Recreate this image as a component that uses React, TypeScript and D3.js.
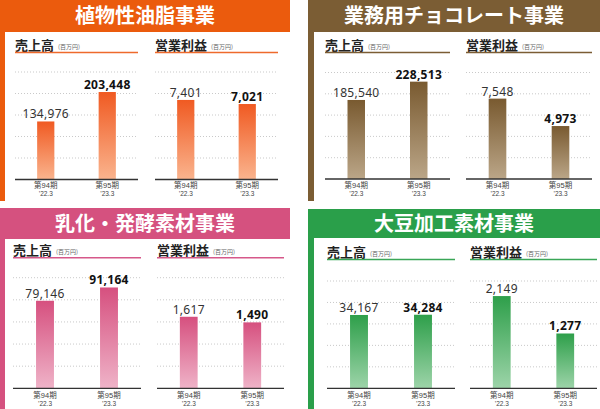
import React from 'react';
import * as d3 from 'd3';

// ---- data ----
const segments = ['植物性油脂事業', '業務用チョコレート事業', '乳化・発酵素材事業', '大豆加工素材事業'];
const periods = ['第94期', '第95期'];
const periodDates = ['’22.3', '’23.3'];
const salesValues = [
  [134976, 203448],
  [185540, 228513],
  [79146, 91164],
  [34167, 34284],
];
const profitValues = [
  [7401, 7021],
  [7548, 4973],
  [1617, 1490],
  [2149, 1277],
];
const salesMax = [250000, 250000, 100000, 50000];
const profitMax = [10000, 10000, 2500, 2500];
const chartTitles = ['売上高', '営業利益'];
const unitLabel = '(百万円)';

// ---- layout / style ----
const palette = [
  { header: '#EB5B0D', line: '#EE6A2C', top: '#F05A22', bottom: '#FAB48E' },
  { header: '#7B5D34', line: '#7B5D34', top: '#795A30', bottom: '#BBA688' },
  { header: '#D5517F', line: '#D6588A', top: '#D6507F', bottom: '#EFB3C8' },
  { header: '#2A9F4A', line: '#3AA657', top: '#2E9F4A', bottom: '#9DD4A9' },
];
const layout = [
  { hx: 0, hy: 0, hw: 290, hh: 32, bx: 0, bw: 5, bh: 201, sales: [15, 138], profit: [155, 278], uy: 52.5, top: 72, bottom: 179.5, lo: 0 },
  { hx: 308, hy: 0, hw: 292, hh: 32, bx: 308, bw: 6, bh: 201, sales: [325, 450], profit: [466, 592], uy: 52.5, top: 72.5, bottom: 179, lo: 0 },
  { hx: 0, hy: 208, hw: 290, hh: 31, bx: 0, bw: 5, bh: 201, sales: [13, 141], profit: [157, 284], uy: 257.7, top: 277.7, bottom: 388.3, lo: 1 },
  { hx: 308, hy: 209, hw: 292, hh: 29, bx: 308, bw: 6, bh: 200, sales: [327, 455], profit: [470, 597], uy: 259.5, top: 281, bottom: 388.3, lo: 0.6 },
];

const JP = '"Noto Sans CJK JP", "Noto Sans", sans-serif';
const SMALL = '"Liberation Sans", "Noto Sans CJK JP", sans-serif';
const NUM = '"Noto Sans", "DejaVu Sans", sans-serif';

function SubChart(props: {
  range: number[]; top: number; bottom: number; uy: number; title: string;
  values: number[]; max: number; line: string; gradId: string; lo: number;
}) {
  const { range, top, bottom, uy, title, values, max, line, gradId, lo } = props;
  const y = d3.scaleLinear().domain([0, max]).range([bottom, top]);
  const x = d3.scaleBand<string>().domain(periods).range(range as [number, number]).paddingInner(0.72).paddingOuter(0.36);
  const ticks = d3.range(1, 6).map((i) => (max * i) / 5);
  const fmt = d3.format(',');
  const titleW = title.length * 13;
  return (
    <g>
      <text x={range[0]} y={uy - 2.5} fontFamily={JP} fontWeight={700} fontSize={13} fill="#222">{title}</text>
      <text x={range[0] + titleW + 4} y={uy - 3.5} fontFamily={JP} fontSize={6} fill="#666">{unitLabel}</text>
      <line x1={range[0]} x2={range[1]} y1={uy} y2={uy} stroke={line} strokeWidth={1.5} />
      {ticks.map((t) => (
        <line key={t} x1={range[0]} x2={range[1]} y1={y(t)} y2={y(t)} stroke="#bbb" strokeWidth={0.8} strokeDasharray="1,2" />
      ))}
      {values.map((v, i) => {
        const p = periods[i];
        const bx = x(p) as number;
        return (
          <g key={p}>
            <rect x={bx} y={y(v)} width={x.bandwidth()} height={bottom - y(v)} fill={`url(#${gradId})`} />
            <text x={bx + x.bandwidth() / 2} y={y(v) - 3} textAnchor="middle" fontFamily={NUM}
              fontSize={12} letterSpacing={0.3} fontWeight={i === 1 ? 700 : 400} fill={i === 1 ? '#111' : '#333'}>{fmt(v)}</text>
            <text x={bx + x.bandwidth() / 2} y={bottom + lo + 8.8} textAnchor="middle" fontFamily={SMALL} fontSize={7.5} fill="#444">{p}</text>
            <text x={bx + x.bandwidth() / 2} y={bottom + lo + 16.9} textAnchor="middle" fontFamily={SMALL} fontSize={6.5} fill="#444">{periodDates[i]}</text>
          </g>
        );
      })}
      <line x1={range[0]} x2={range[1]} y1={bottom} y2={bottom} stroke="#333" strokeWidth={1.3} />
    </g>
  );
}

export default function App() {
  return (
    <svg width={600} height={409} style={{ position: 'absolute', left: 0, top: 0, background: '#fff' }}>
      <defs>
        {palette.map((c, i) => (
          <linearGradient key={i} id={`grad${i}`} x1="0" y1="0" x2="0" y2="1">
            <stop offset="0%" stopColor={c.top} />
            <stop offset="100%" stopColor={c.bottom} />
          </linearGradient>
        ))}
      </defs>
      {segments.map((name, i) => {
        const L = layout[i];
        const c = palette[i];
        return (
          <g key={name}>
            <rect x={L.bx} y={L.hy} width={L.bw} height={L.bh} fill={c.header} />
            <rect x={L.hx} y={L.hy} width={L.hw} height={L.hh} fill={c.header} />
            <text x={L.hx + L.hw / 2} y={L.hy + L.hh / 2 + 7} textAnchor="middle" fontFamily={JP}
              fontWeight={700} fontSize={20} fill="#fff">{name}</text>
            <SubChart range={L.sales} top={L.top} bottom={L.bottom} uy={L.uy} title={chartTitles[0]}
              values={salesValues[i]} max={salesMax[i]} line={c.line} gradId={`grad${i}`} lo={L.lo} />
            <SubChart range={L.profit} top={L.top} bottom={L.bottom} uy={L.uy} title={chartTitles[1]}
              values={profitValues[i]} max={profitMax[i]} line={c.line} gradId={`grad${i}`} lo={L.lo} />
          </g>
        );
      })}
    </svg>
  );
}
